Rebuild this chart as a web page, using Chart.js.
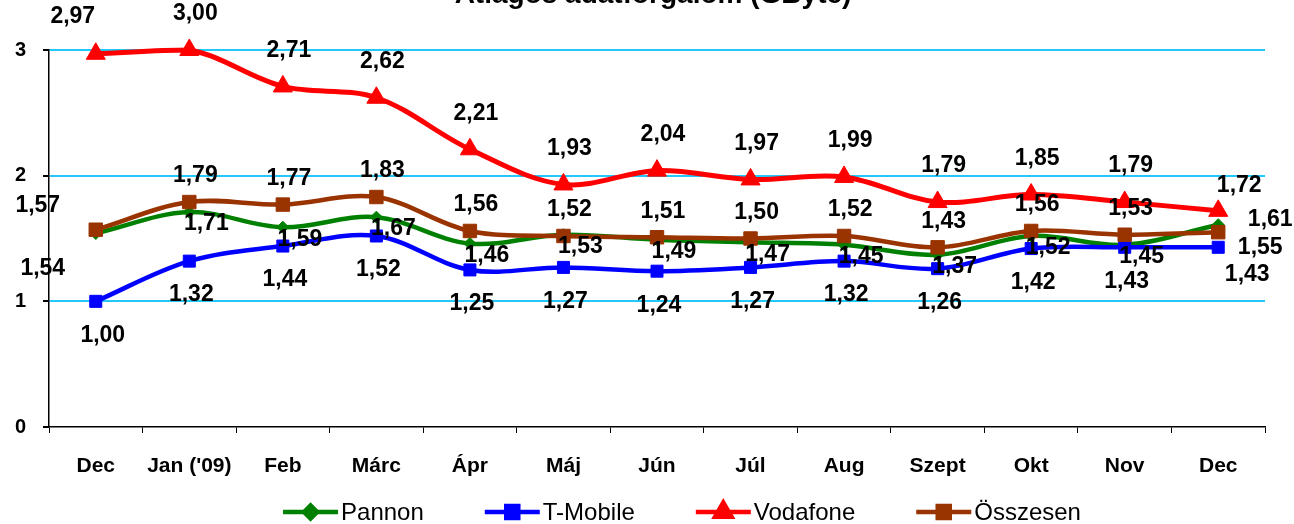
<!DOCTYPE html>
<html><head><meta charset="utf-8">
<script src="https://cdn.jsdelivr.net/npm/chart.js@4.4.0/dist/chart.umd.min.js"></script>
<style>html,body{margin:0;padding:0;background:#fff;overflow:hidden}#wrap{width:1294px;height:524px}</style>
</head><body><div id="wrap"><canvas id="c" width="1294" height="524"></canvas></div>
<script>
// ---- data ----
const categories = ['Dec', "Jan ('09)", 'Feb', 'Márc', 'Ápr', 'Máj', 'Jún', 'Júl', 'Aug', 'Szept', 'Okt', 'Nov', 'Dec'];
const pannon   = [1.54, 1.71, 1.59, 1.67, 1.46, 1.53, 1.49, 1.47, 1.45, 1.37, 1.52, 1.45, 1.61];
const tmobile  = [1.00, 1.32, 1.44, 1.52, 1.25, 1.27, 1.24, 1.27, 1.32, 1.26, 1.42, 1.43, 1.43];
const vodafone = [2.97, 3.00, 2.71, 2.62, 2.21, 1.93, 2.04, 1.97, 1.99, 1.79, 1.85, 1.79, 1.72];
const osszesen = [1.57, 1.79, 1.77, 1.83, 1.56, 1.52, 1.51, 1.50, 1.52, 1.43, 1.56, 1.53, 1.55];
const yTicks = [0, 1, 2, 3];
const seriesNames = ['Pannon', 'T-Mobile', 'Vodafone', 'Összesen'];
const titleText = 'Átlagos adatforgalom (GByte)';

// ---- styling / label placement (relative to each point) ----
const FONT = '"Liberation Sans", Arial, sans-serif';
const labelPlacement = {
  'Pannon':   {dx: 17, dy: 12,  first: [-53, 35], last: [52, -5]},
  'T-Mobile': {dx: 2,  dy: 34,  first: [7, 34],   last: [29, 27]},
  'Vodafone': {dx: 6,  dy: -36, first: [-23, -37], last: [21, -25]},
  'Összesen': {dx: 6,  dy: -26, first: [-58, -24], last: [42, 15]}
};
const fmt = v => v.toFixed(2).replace('.', ',');

function ds(label, data, color, style, radius, width, order) {
  return {label, data, borderColor: color, backgroundColor: color,
    pointBackgroundColor: color, pointBorderColor: color, pointStyle: style,
    pointRadius: radius, pointHoverRadius: radius, pointBorderWidth: 1,
    borderWidth: width, tension: 0.35, clip: false, order, fill: false};
}

const dataLabels = {
  id: 'dataLabels',
  afterDatasetsDraw(chart) {
    const ctx = chart.ctx;
    ctx.save();
    ctx.font = 'bold 23px ' + FONT;
    ctx.fillStyle = '#000';
    ctx.textAlign = 'center';
    ctx.textBaseline = 'middle';
    chart.data.datasets.forEach((d, i) => {
      const meta = chart.getDatasetMeta(i);
      const p = labelPlacement[d.label];
      meta.data.forEach((pt, j) => {
        const off = j === 0 ? p.first : (j === meta.data.length - 1 ? p.last : [p.dx, p.dy]);
        ctx.fillText(fmt(d.data[j]), pt.x + off[0], pt.y + off[1]);
      });
    });
    ctx.restore();
  }
};

const titleAndLegend = {
  id: 'titleAndLegend',
  afterDraw(chart) {
    const ctx = chart.ctx;
    const ca = chart.chartArea;
    ctx.save();
    // title (top partly cut off as in the reference)
    ctx.font = 'bold 28px ' + FONT;
    ctx.fillStyle = '#000';
    ctx.textAlign = 'center';
    ctx.textBaseline = 'alphabetic';
    ctx.fillText(titleText, (ca.left + ca.right) / 2 - 4, 3);
    // legend: line + marker + text
    ctx.font = '24px ' + FONT;
    const lineLen = 55, textGap = 3, itemGap = 61;
    const items = chart.data.datasets.map(d => ({d, w: lineLen + textGap + ctx.measureText(d.label).width}));
    const total = items.reduce((s, it) => s + it.w, 0) + itemGap * (items.length - 1);
    let x = (ca.left + ca.right) / 2 + 25 - total / 2;
    const y = 512;
    items.forEach(it => {
      const d = it.d;
      ctx.strokeStyle = d.borderColor;
      ctx.fillStyle = d.borderColor;
      ctx.lineWidth = 4.5;
      ctx.beginPath();
      ctx.moveTo(x, y); ctx.lineTo(x + lineLen, y);
      ctx.stroke();
      const r = d.pointStyle === 'triangle' ? 9.5 : (d.pointStyle === 'rectRot' ? 6.5 : 8.5);
      Chart.helpers.drawPoint(ctx, {pointStyle: d.pointStyle, rotation: 0, radius: r, borderWidth: 1}, x + lineLen / 2, y);
      ctx.fillStyle = '#000';
      ctx.textAlign = 'left';
      ctx.textBaseline = 'middle';
      ctx.fillText(d.label, x + lineLen + textGap, y + 1);
      x += it.w + itemGap;
    });
    ctx.restore();
  }
};

new Chart(document.getElementById('c'), {
  type: 'line',
  data: {
    labels: categories,
    datasets: [
      ds(seriesNames[0], pannon,   '#008000', 'rectRot',  6,   4.5, 3),
      ds(seriesNames[1], tmobile,  '#0000FF', 'rect',     8.5, 4.5, 2),
      ds(seriesNames[2], vodafone, '#FF0000', 'triangle', 11,  5,   1),
      ds(seriesNames[3], osszesen, '#993300', 'rect',     9.5, 4.5, 0)
    ]
  },
  options: {
    responsive: false,
    animation: false,
    devicePixelRatio: 1,
    layout: {padding: {left: 0, right: 29, top: 50, bottom: 0}},
    plugins: {legend: {display: false}, tooltip: {enabled: false}, title: {display: false}},
    scales: {
      x: {
        type: 'category',
        offset: true,
        grid: {offset: true, drawOnChartArea: false, drawTicks: true, tickLength: 6, color: '#000', lineWidth: 1},
        border: {display: true, color: '#000', width: 1.5},
        ticks: {color: '#000', font: {family: FONT, size: 21, weight: 'bold'}, padding: 21, maxRotation: 0, autoSkip: false},
        afterFit: s => { s.height = 97; }
      },
      y: {
        min: 0, max: 3,
        afterBuildTicks: s => { s.ticks = yTicks.map(v => ({value: v})); },
        grid: {
          color: c => (c.tick && c.tick.value === 0) ? 'rgba(0,0,0,0)' : '#22C8F8',
          tickColor: '#000', tickLength: 6, lineWidth: 2
        },
        border: {display: true, color: '#000', width: 1.5},
        ticks: {color: '#000', font: {family: FONT, size: 20, weight: 'bold'}, padding: 17},
        afterFit: s => { s.width = 49; }
      }
    }
  },
  plugins: [dataLabels, titleAndLegend]
});
</script></body></html>
